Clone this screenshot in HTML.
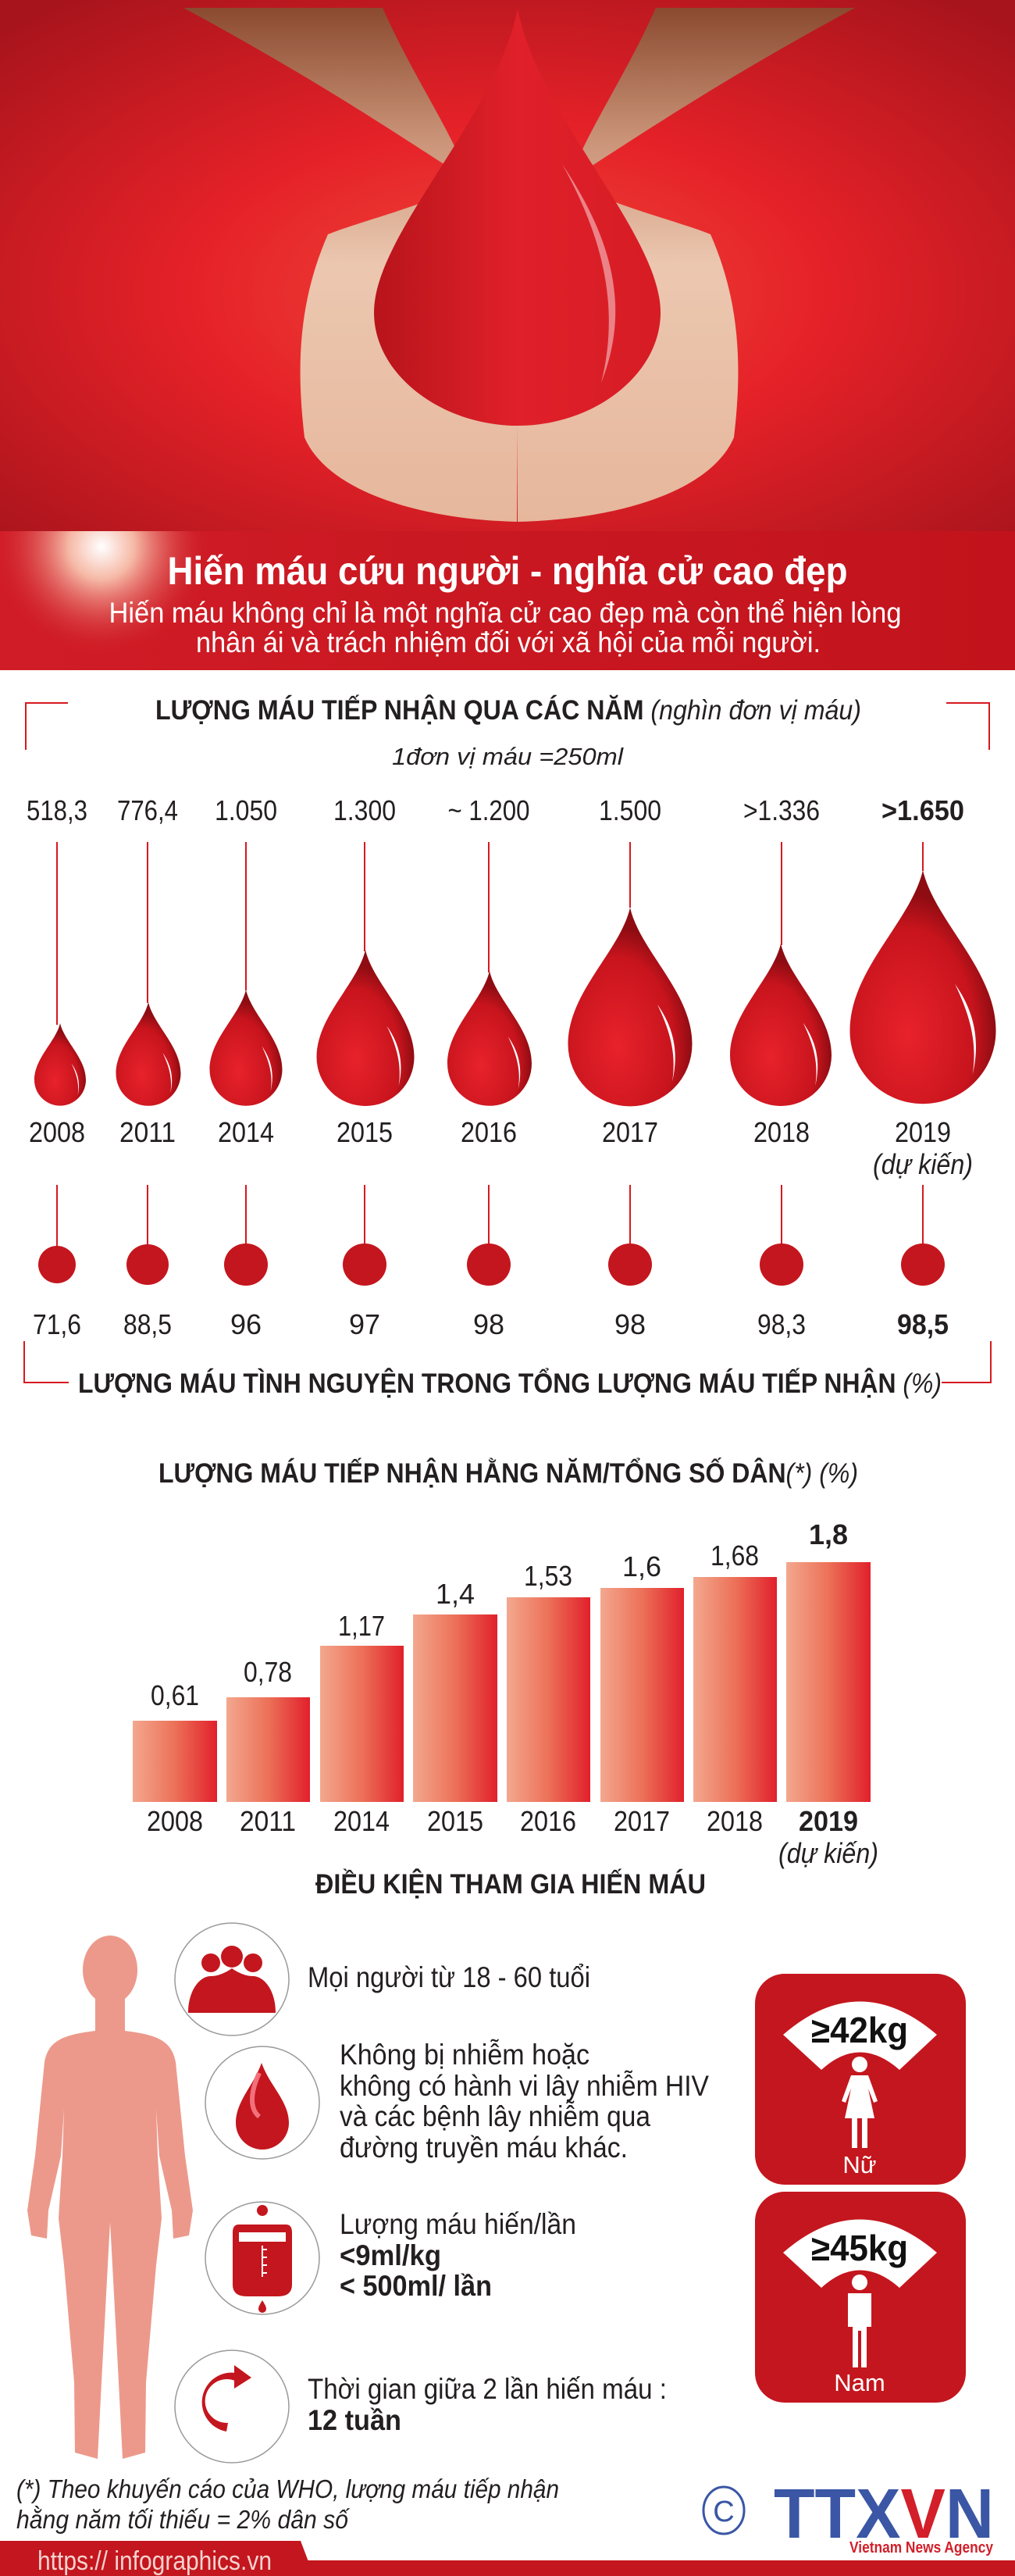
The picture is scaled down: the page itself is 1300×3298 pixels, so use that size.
<!DOCTYPE html>
<html><head><meta charset="utf-8">
<style>
html,body{margin:0;padding:0;background:#fff;}
svg{display:block;}
text{font-family:"Liberation Sans Narrow","Liberation Sans","Noto Sans CJK SC",sans-serif;}
</style></head>
<body>
<svg width="1300" height="3298" viewBox="0 0 1300 3298" xmlns="http://www.w3.org/2000/svg">
<defs>
<radialGradient id="bg" cx="0.5" cy="0.55" r="0.7">
<stop offset="0" stop-color="#f04a3a"/><stop offset="0.45" stop-color="#e52128"/><stop offset="1" stop-color="#a8141c"/>
</radialGradient>
<linearGradient id="skin" x1="0" y1="0" x2="0" y2="1">
<stop offset="0" stop-color="#8a4a30"/><stop offset="0.25" stop-color="#c99276"/><stop offset="0.5" stop-color="#ecc7b0"/><stop offset="1" stop-color="#e6b79c"/>
</linearGradient>
<linearGradient id="bigdrop" x1="0" y1="0" x2="1" y2="0">
<stop offset="0" stop-color="#b8141b"/><stop offset="0.5" stop-color="#e0202a"/><stop offset="1" stop-color="#d61c24"/>
</linearGradient>
<radialGradient id="glow" cx="130" cy="700" r="140" gradientUnits="userSpaceOnUse">
<stop offset="0" stop-color="#ffffff"/><stop offset="0.3" stop-color="#f6b9a6"/><stop offset="1" stop-color="#d31d27" stop-opacity="0"/>
</radialGradient>
<linearGradient id="banner" x1="0" y1="0" x2="1" y2="0">
<stop offset="0" stop-color="#d01c26"/><stop offset="1" stop-color="#c2131c"/>
</linearGradient>
<radialGradient id="drop" cx="0.4" cy="0.7" r="0.6">
<stop offset="0" stop-color="#e8222b"/><stop offset="0.75" stop-color="#c8141d"/><stop offset="1" stop-color="#8e0c12"/>
</radialGradient>
<linearGradient id="bar" x1="0" y1="0" x2="1" y2="0">
<stop offset="0" stop-color="#f3a88f"/><stop offset="0.5" stop-color="#ec7158"/><stop offset="1" stop-color="#e1202b"/>
</linearGradient>
<path id="d" d="M0,0 C0.08,0.35 0.5,0.68 0.5,1.1 A0.5,0.5 0 0 1 -0.5,1.1 C-0.5,0.68 -0.08,0.35 0,0 Z"/>
<path id="hl" d="M0.22,0.78 C0.34,0.95 0.4,1.15 0.34,1.4 C0.38,1.15 0.3,0.95 0.22,0.78 Z"/>
</defs>

<!-- top photo -->
<rect x="0" y="0" width="1300" height="680" fill="url(#bg)"/>
<path d="M235,10 L490,10 C530,100 580,170 600,230 C560,260 470,280 420,300 C385,380 378,460 390,560 C420,630 540,665 662,668 L663,545 C560,520 482,430 480,400 L600,230 C520,180 420,110 235,10 Z" fill="url(#skin)"/>
<path d="M1095,10 L840,10 C800,100 750,170 730,230 C770,260 860,280 910,300 C945,380 952,460 940,560 C910,630 790,665 663,668 L663,545 C770,520 846,430 846,400 L730,230 C810,180 910,110 1095,10 Z" fill="url(#skin)"/>
<path d="M663,11 C690,150 846,300 846,400 C846,480 760,545 663,545 C566,545 479,480 479,400 C479,300 636,150 663,11 Z" fill="url(#bigdrop)"/>
<path d="M720,210 C780,300 810,390 770,490 C795,390 770,300 720,210 Z" fill="#fff" opacity="0.45"/>

<!-- banner -->
<rect x="0" y="680" width="1300" height="178" fill="url(#banner)"/>
<rect x="0" y="680" width="300" height="178" fill="url(#glow)"/>
<text x="650" y="748" text-anchor="middle" font-size="50" font-weight="bold" fill="#fff" textLength="871" lengthAdjust="spacingAndGlyphs">Hiến máu cứu người - nghĩa cử cao đẹp</text>
<text x="647" y="797" text-anchor="middle" font-size="37" fill="#fff" textLength="1015" lengthAdjust="spacingAndGlyphs">Hiến máu không chỉ là một nghĩa cử cao đẹp mà còn thể hiện lòng</text>
<text x="651" y="835" text-anchor="middle" font-size="37" fill="#fff" textLength="800" lengthAdjust="spacingAndGlyphs">nhân ái và trách nhiệm đối với xã hội của mỗi người.</text>

<!-- section 1 -->
<path d="M33,960 V900 H87 M1212,900 H1267 V960" fill="none" stroke="#d71920" stroke-width="2"/>
<text x="651" y="921" text-anchor="middle" font-size="35" fill="#231f20" textLength="904" lengthAdjust="spacingAndGlyphs"><tspan font-weight="bold">LƯỢNG MÁU TIẾP NHẬN QUA CÁC NĂM </tspan><tspan font-style="italic">(nghìn đơn vị máu)</tspan></text>
<text x="650" y="979" text-anchor="middle" font-size="31" font-style="italic" fill="#231f20" textLength="296" lengthAdjust="spacingAndGlyphs">1đơn vị máu =250ml</text>

<g font-size="36" fill="#231f20" text-anchor="middle">
<text x="73" y="1050" textLength="78" lengthAdjust="spacingAndGlyphs">518,3</text><text x="189" y="1050" textLength="78" lengthAdjust="spacingAndGlyphs">776,4</text><text x="315" y="1050" textLength="80" lengthAdjust="spacingAndGlyphs">1.050</text><text x="467" y="1050" textLength="80" lengthAdjust="spacingAndGlyphs">1.300</text><text x="626" y="1050" textLength="105" lengthAdjust="spacingAndGlyphs">~ 1.200</text><text x="807" y="1050" textLength="80" lengthAdjust="spacingAndGlyphs">1.500</text><text x="1001" y="1050" textLength="98" lengthAdjust="spacingAndGlyphs">&gt;1.336</text><text x="1182" y="1050" font-weight="bold" textLength="106" lengthAdjust="spacingAndGlyphs">&gt;1.650</text>
</g>
<g stroke="#d71920" stroke-width="2">
<line x1="73" y1="1078" x2="73" y2="1312"/><line x1="189" y1="1078" x2="189" y2="1284"/><line x1="315" y1="1078" x2="315" y2="1268"/><line x1="467" y1="1078" x2="467" y2="1218"/><line x1="626" y1="1078" x2="626" y2="1245"/><line x1="807" y1="1078" x2="807" y2="1162"/><line x1="1001" y1="1078" x2="1001" y2="1210"/><line x1="1182" y1="1078" x2="1182" y2="1115"/>
</g>
<g fill="url(#drop)">
<g transform="translate(77,1310) scale(66)"><use href="#d"/><use href="#hl" fill="#fff"/></g>
<g transform="translate(190,1283) scale(83)"><use href="#d"/><use href="#hl" fill="#fff"/></g>
<g transform="translate(315,1267) scale(93)"><use href="#d"/><use href="#hl" fill="#fff"/></g>
<g transform="translate(468,1216) scale(125)"><use href="#d"/><use href="#hl" fill="#fff"/></g>
<g transform="translate(627,1243) scale(108)"><use href="#d"/><use href="#hl" fill="#fff"/></g>
<g transform="translate(807,1162) scale(159)"><use href="#d"/><use href="#hl" fill="#fff"/></g>
<g transform="translate(1000,1208) scale(130)"><use href="#d"/><use href="#hl" fill="#fff"/></g>
<g transform="translate(1182,1114) scale(187)"><use href="#d"/><use href="#hl" fill="#fff"/></g>
</g>
<g font-size="36" fill="#231f20" text-anchor="middle">
<text x="73" y="1462" textLength="72" lengthAdjust="spacingAndGlyphs">2008</text><text x="189" y="1462" textLength="72" lengthAdjust="spacingAndGlyphs">2011</text><text x="315" y="1462" textLength="72" lengthAdjust="spacingAndGlyphs">2014</text><text x="467" y="1462" textLength="72" lengthAdjust="spacingAndGlyphs">2015</text><text x="626" y="1462" textLength="72" lengthAdjust="spacingAndGlyphs">2016</text><text x="807" y="1462" textLength="72" lengthAdjust="spacingAndGlyphs">2017</text><text x="1001" y="1462" textLength="72" lengthAdjust="spacingAndGlyphs">2018</text><text x="1182" y="1462" textLength="72" lengthAdjust="spacingAndGlyphs">2019</text>
<text x="1182" y="1503" font-style="italic" textLength="128" lengthAdjust="spacingAndGlyphs">(dự kiến)</text>
</g>

<!-- voluntary -->
<g stroke="#d71920" stroke-width="2">
<line x1="73" y1="1517" x2="73" y2="1600"/><line x1="189" y1="1517" x2="189" y2="1600"/><line x1="315" y1="1517" x2="315" y2="1600"/><line x1="467" y1="1517" x2="467" y2="1600"/><line x1="626" y1="1517" x2="626" y2="1600"/><line x1="807" y1="1517" x2="807" y2="1600"/><line x1="1001" y1="1517" x2="1001" y2="1600"/><line x1="1182" y1="1517" x2="1182" y2="1600"/>
</g>
<g fill="#c4161e">
<ellipse cx="73" cy="1619" rx="24" ry="24"/><ellipse cx="189" cy="1619" rx="27" ry="26"/><ellipse cx="315" cy="1619" rx="28" ry="27"/><ellipse cx="467" cy="1619" rx="28" ry="27"/><ellipse cx="626" cy="1619" rx="28" ry="27"/><ellipse cx="807" cy="1619" rx="28" ry="27"/><ellipse cx="1001" cy="1619" rx="28" ry="27"/><ellipse cx="1182" cy="1619" rx="28" ry="27"/>
</g>
<g font-size="36" fill="#231f20" text-anchor="middle">
<text x="73" y="1708" textLength="62" lengthAdjust="spacingAndGlyphs">71,6</text><text x="189" y="1708" textLength="62" lengthAdjust="spacingAndGlyphs">88,5</text><text x="315" y="1708">96</text><text x="467" y="1708">97</text><text x="626" y="1708">98</text><text x="807" y="1708">98</text><text x="1001" y="1708" textLength="62" lengthAdjust="spacingAndGlyphs">98,3</text><text x="1182" y="1708" font-weight="bold" textLength="66" lengthAdjust="spacingAndGlyphs">98,5</text>
</g>
<path d="M31,1717 V1770 H88 M1206,1770 H1269 V1717" fill="none" stroke="#d71920" stroke-width="2"/>
<text x="653" y="1783" text-anchor="middle" font-size="35" fill="#231f20" textLength="1106" lengthAdjust="spacingAndGlyphs"><tspan font-weight="bold">LƯỢNG MÁU TÌNH NGUYỆN TRONG TỔNG LƯỢNG MÁU TIẾP NHẬN </tspan><tspan font-style="italic">(%)</tspan></text>

<!-- bar chart -->
<text x="651" y="1898" text-anchor="middle" font-size="35" fill="#231f20" textLength="896" lengthAdjust="spacingAndGlyphs"><tspan font-weight="bold">LƯỢNG MÁU TIẾP NHẬN HẰNG NĂM/TỔNG SỐ DÂN</tspan><tspan font-style="italic">(*) (%)</tspan></text>
<g fill="url(#bar)">
<rect x="170" y="2203" width="108" height="104"/><rect x="290" y="2173" width="107" height="134"/><rect x="410" y="2107" width="107" height="200"/><rect x="529" y="2067" width="108" height="240"/><rect x="649" y="2045" width="107" height="262"/><rect x="769" y="2033" width="107" height="274"/><rect x="888" y="2019" width="107" height="288"/><rect x="1007" y="2000" width="108" height="307"/>
</g>
<g font-size="36" fill="#231f20" text-anchor="middle">
<text x="224" y="2183" textLength="62" lengthAdjust="spacingAndGlyphs">0,61</text><text x="343" y="2153" textLength="62" lengthAdjust="spacingAndGlyphs">0,78</text><text x="463" y="2094" textLength="60" lengthAdjust="spacingAndGlyphs">1,17</text><text x="583" y="2053">1,4</text><text x="702" y="2030" textLength="62" lengthAdjust="spacingAndGlyphs">1,53</text><text x="822" y="2018">1,6</text><text x="941" y="2004" textLength="62" lengthAdjust="spacingAndGlyphs">1,68</text><text x="1061" y="1977" font-weight="bold">1,8</text>
<text x="224" y="2344" textLength="72" lengthAdjust="spacingAndGlyphs">2008</text><text x="343" y="2344" textLength="72" lengthAdjust="spacingAndGlyphs">2011</text><text x="463" y="2344" textLength="72" lengthAdjust="spacingAndGlyphs">2014</text><text x="583" y="2344" textLength="72" lengthAdjust="spacingAndGlyphs">2015</text><text x="702" y="2344" textLength="72" lengthAdjust="spacingAndGlyphs">2016</text><text x="822" y="2344" textLength="72" lengthAdjust="spacingAndGlyphs">2017</text><text x="941" y="2344" textLength="72" lengthAdjust="spacingAndGlyphs">2018</text><text x="1061" y="2344" font-weight="bold" textLength="76" lengthAdjust="spacingAndGlyphs">2019</text>
<text x="1061" y="2385" font-style="italic" textLength="128" lengthAdjust="spacingAndGlyphs">(dự kiến)</text>
</g>

<!-- conditions -->
<text x="654" y="2424" text-anchor="middle" font-size="35" font-weight="bold" fill="#231f20" textLength="500" lengthAdjust="spacingAndGlyphs">ĐIỀU KIỆN THAM GIA HIẾN MÁU</text>

<g fill="#ec998b">
<ellipse cx="141" cy="2522" rx="35" ry="44"/>
<path d="M122,2555 L122,2600 C82,2605 62,2612 57,2640 L45,2760 L35,2830 L40,2862 L60,2866 L62,2830 L78,2760 L82,2700 L80,2760 L75,2840 L82,2900 L95,3050 L96,3140 L125,3148 L130,3050 L138,2900 L141,2845 L144,2900 L152,3050 L157,3148 L186,3140 L187,3050 L200,2900 L207,2840 L202,2760 L200,2700 L204,2760 L220,2830 L222,2866 L242,2862 L247,2830 L237,2760 L225,2640 C220,2612 200,2605 160,2600 L160,2555 Z"/>
</g>

<g fill="#fff" stroke="#9a9a9a" stroke-width="1.5">
<ellipse cx="297" cy="2534" rx="73" ry="72"/>
<ellipse cx="336" cy="2692" rx="73" ry="72"/>
<ellipse cx="336" cy="2891" rx="73" ry="72"/>
<ellipse cx="297" cy="3081" rx="73" ry="72"/>
</g>
<g fill="#c4161e">
<circle cx="297" cy="2505" r="14"/><circle cx="270" cy="2513" r="12"/><circle cx="324" cy="2513" r="12"/>
<path d="M241,2577 C241,2548 256,2530 270,2530 C284,2530 297,2520 297,2520 C297,2520 310,2530 324,2530 C338,2530 353,2548 353,2577 Z"/>
<path d="M335,2641 C345,2670 370,2690 370,2718 A34,34 0 0 1 302,2718 C302,2690 325,2670 335,2641 Z"/>
<circle cx="336" cy="2830" r="7"/>
<path d="M306,2848 H366 Q374,2848 374,2858 V2925 Q374,2940 356,2940 H316 Q298,2940 298,2925 V2858 Q298,2848 306,2848 Z"/>
<path d="M336,2945 C339,2950 341,2953 341,2956 A5,5 0 0 1 331,2956 C331,2953 333,2950 336,2945 Z"/>
<path d="M310,3040 A38,38 0 1 0 290,3113 L292,3102 A28,28 0 1 1 305,3050 Z"/>
<path d="M300,3028 L322,3044 L300,3058 Z"/>
</g>
<path d="M332,2654 C320,2680 320,2700 332,2710" stroke="#f2707a" stroke-width="6" fill="none"/>
<g stroke="#fff" stroke-width="2"><line x1="336" y1="2875" x2="336" y2="2915"/><line x1="336" y1="2880" x2="342" y2="2880"/><line x1="336" y1="2890" x2="342" y2="2890"/><line x1="336" y1="2900" x2="342" y2="2900"/><line x1="336" y1="2910" x2="342" y2="2910"/></g>
<rect x="306" y="2858" width="60" height="12" fill="#fff"/>

<g font-size="37" fill="#231f20">
<text x="394" y="2544" textLength="362" lengthAdjust="spacingAndGlyphs">Mọi người từ 18 - 60 tuổi</text>
<text x="435" y="2643" textLength="320" lengthAdjust="spacingAndGlyphs">Không bị nhiễm hoặc</text>
<text x="435" y="2683" textLength="473" lengthAdjust="spacingAndGlyphs">không có hành vi lây nhiễm HIV</text>
<text x="435" y="2722" textLength="398" lengthAdjust="spacingAndGlyphs">và các bệnh lây nhiễm qua</text>
<text x="435" y="2762" textLength="369" lengthAdjust="spacingAndGlyphs">đường truyền máu khác.</text>
<text x="435" y="2860" textLength="303" lengthAdjust="spacingAndGlyphs">Lượng máu hiến/lần</text>
<text x="435" y="2900" font-weight="bold" textLength="130" lengthAdjust="spacingAndGlyphs">&lt;9ml/kg</text>
<text x="435" y="2939" font-weight="bold" textLength="195" lengthAdjust="spacingAndGlyphs">&lt; 500ml/ lần</text>
<text x="394" y="3071" textLength="460" lengthAdjust="spacingAndGlyphs">Thời gian giữa 2 lần hiến máu :</text>
<text x="394" y="3111" font-weight="bold" textLength="120" lengthAdjust="spacingAndGlyphs">12 tuần</text>
</g>

<!-- weight boxes -->
<g>
<rect x="967" y="2527" width="270" height="270" rx="38" fill="#c4161e"/>
<path d="M1003,2605 Q1101,2520 1200,2605 L1152,2650 Q1101,2605 1052,2650 Z" fill="#fff"/>
<text x="1101" y="2615" text-anchor="middle" font-size="46" font-weight="bold" fill="#111" textLength="124" lengthAdjust="spacingAndGlyphs">≥42kg</text>
<circle cx="1101" cy="2643" r="10" fill="#fff"/>
<path d="M1090,2657 H1112 L1124,2690 L1119,2692 L1112,2674 L1120,2712 H1082 L1090,2674 L1083,2692 L1078,2690 Z" fill="#fff"/>
<rect x="1091" y="2712" width="7" height="38" fill="#fff"/><rect x="1104" y="2712" width="7" height="38" fill="#fff"/>
<text x="1101" y="2782" text-anchor="middle" font-size="31" fill="#fff">Nữ</text>
</g>
<g transform="translate(0,279)">
<rect x="967" y="2527" width="270" height="270" rx="38" fill="#c4161e"/>
<path d="M1003,2605 Q1101,2520 1200,2605 L1152,2650 Q1101,2605 1052,2650 Z" fill="#fff"/>
<text x="1101" y="2615" text-anchor="middle" font-size="46" font-weight="bold" fill="#111" textLength="124" lengthAdjust="spacingAndGlyphs">≥45kg</text>
<circle cx="1101" cy="2643" r="10" fill="#fff"/>
<path d="M1086,2657 H1116 V2700 H1110 V2752 H1103 V2705 H1099 V2752 H1092 V2700 H1086 Z" fill="#fff"/>
<text x="1101" y="2782" text-anchor="middle" font-size="31" fill="#fff">Nam</text>
</g>

<!-- footnote -->
<g font-size="33" font-style="italic" fill="#231f20">
<text x="21" y="3198" textLength="695" lengthAdjust="spacingAndGlyphs">(*) Theo khuyến cáo của WHO, lượng máu tiếp nhận</text>
<text x="21" y="3237" textLength="425" lengthAdjust="spacingAndGlyphs">hằng năm tối thiếu = 2% dân số</text>
</g>
<ellipse cx="927" cy="3214" rx="26" ry="30" fill="none" stroke="#3a56a5" stroke-width="3"/>
<text x="927" y="3228" text-anchor="middle" font-size="38" fill="#3a56a5">C</text>
<text x="991" y="3249" font-size="90" font-weight="bold" fill="#3a56a5" font-family="Liberation Sans" textLength="282" lengthAdjust="spacingAndGlyphs">TTX<tspan fill="#d21f2a">V</tspan>N</text>
<text x="1088" y="3268" font-size="20" font-weight="bold" fill="#d21f2a" textLength="184" lengthAdjust="spacingAndGlyphs">Vietnam News Agency</text>

<!-- footer -->
<rect x="385" y="3278" width="915" height="20" fill="#c4161e"/>
<path d="M0,3253 H385 L402,3298 H0 Z" fill="#c4161e"/>
<text x="48" y="3290" font-size="34" fill="#f4d3cf" textLength="300" lengthAdjust="spacingAndGlyphs">https:// infographics.vn</text>
</svg>
</body></html>
